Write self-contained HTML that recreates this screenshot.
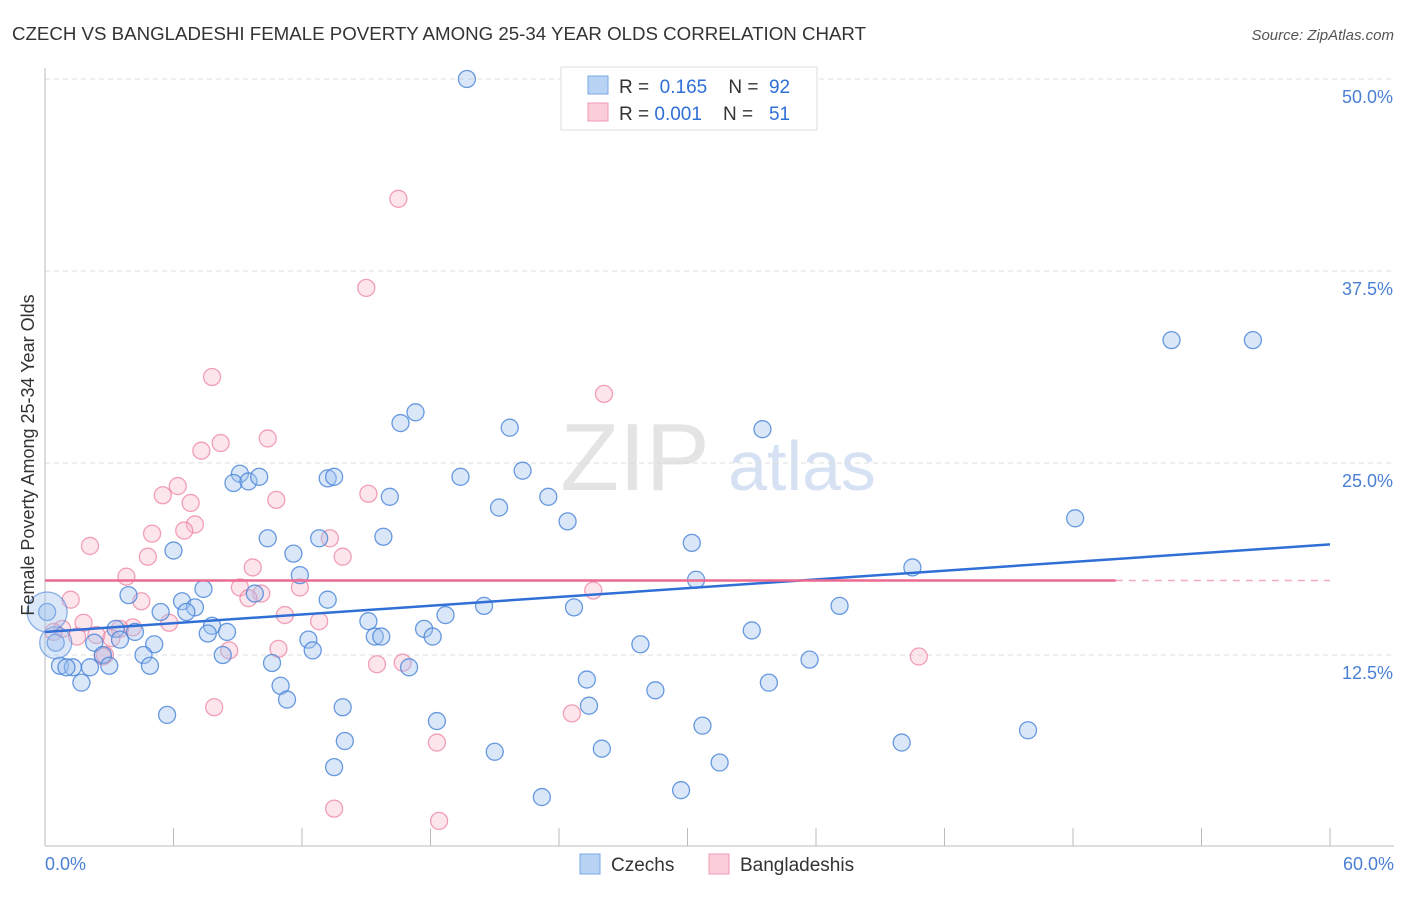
<!DOCTYPE html>
<html><head><meta charset="utf-8"><style>
body{margin:0;background:#fff;font-family:"Liberation Sans",sans-serif}
svg text{font-family:"Liberation Sans",sans-serif}
</style></head><body>
<svg id="chart" width="1406" height="892" xmlns="http://www.w3.org/2000/svg">
<text x="12" y="40" font-size="18" fill="#333" textLength="854" lengthAdjust="spacingAndGlyphs">CZECH VS BANGLADESHI FEMALE POVERTY AMONG 25-34 YEAR OLDS CORRELATION CHART</text>
<text x="1394" y="40" font-size="15" fill="#555" text-anchor="end" font-style="italic">Source: ZipAtlas.com</text>
<text x="635" y="490" font-size="96" fill="#e4e4e4" font-family="Liberation Serif" text-anchor="middle">ZIP</text>
<text x="802" y="490" font-size="70" fill="#d6e2f3" text-anchor="middle">atlas</text>
<g id="grid"></g>
<g id="axes"></g>
<g id="pts"></g>
<g id="lines"></g>
<text transform="translate(34,455) rotate(-90)" font-size="18" fill="#333" text-anchor="middle">Female Poverty Among 25-34 Year Olds</text>
<text x="45" y="870" font-size="18" fill="#4a7fd4">0.0%</text>
<text x="1394" y="870" font-size="18" fill="#4a7fd4" text-anchor="end">60.0%</text>
<g>
<rect x="561" y="67" width="256" height="63" fill="#fff" stroke="#ddd"/>
<rect x="588" y="76" width="20" height="18" fill="#b9d3f5" stroke="#7aa7e6"/>
<rect x="588" y="103" width="20" height="18" fill="#fbcdd9" stroke="#f09ab2"/>
<text x="619" y="93" font-size="19" fill="#333">R = <tspan fill="#2f6fd6">&#160;0.165</tspan>&#160;&#160;&#160;&#160;N = <tspan fill="#2f6fd6">&#160;92</tspan></text>
<text x="619" y="120" font-size="19" fill="#333">R = <tspan fill="#2f6fd6">0.001</tspan>&#160;&#160;&#160;&#160;N = <tspan fill="#2f6fd6">&#160;&#160;51</tspan></text>
</g>
<g>
<rect x="580" y="854" width="20" height="20" fill="#b9d3f5" stroke="#7aa7e6"/>
<text x="611" y="871" font-size="19" fill="#333">Czechs</text>
<rect x="709" y="854" width="20" height="20" fill="#fbcdd9" stroke="#f09ab2"/>
<text x="740" y="871" font-size="19" fill="#333">Bangladeshis</text>
</g>
</svg>
<script>
const yTicks=[12.5,25,37.5,50];
const yTickLabels=["12.5%","25.0%","37.5%","50.0%"];
const xTicks=[0,6,12,18,24,30,36,42,48,54,60];
const czechX=[19.7,52.6,56.4,17.3,16.6,21.7,33.5,9.1,8.8,9.5,10.0,13.2,13.5,19.4,22.3,16.1,23.5,21.2,24.4,48.1,6.0,10.4,12.8,15.8,11.6,30.2,40.5,11.9,30.4,3.9,7.4,9.8,13.2,6.4,5.4,7.0,6.6,37.1,24.7,20.5,18.7,15.1,7.8,3.3,4.2,7.6,8.5,17.7,33.0,3.5,2.3,5.1,12.3,15.4,15.7,18.1,27.8,12.5,2.7,4.6,8.3,35.7,0.7,1.3,3.0,2.1,4.9,10.6,17.0,25.3,1.7,11.0,33.8,28.5,11.3,13.9,25.4,5.7,18.3,30.7,45.9,14.0,40.0,26.0,21.0,31.5,13.5,29.7,23.2,0.5,0.1,1.0];
const czechY=[50.0,33.0,33.0,28.3,27.6,27.3,27.2,24.3,23.7,23.8,24.1,24.0,24.1,24.1,24.5,22.8,22.8,22.1,21.2,21.4,19.3,20.1,20.1,20.2,19.1,19.8,18.2,17.7,17.4,16.4,16.8,16.5,16.1,16.0,15.3,15.6,15.3,15.7,15.6,15.7,15.1,14.7,14.4,14.2,14.0,13.9,14.0,14.2,14.1,13.5,13.3,13.2,13.5,13.7,13.7,13.7,13.2,12.8,12.5,12.5,12.5,12.2,11.8,11.7,11.8,11.7,11.8,11.98,11.7,10.9,10.7,10.5,10.7,10.2,9.6,9.1,9.2,8.6,8.2,7.9,7.6,6.9,6.8,6.4,6.2,5.5,5.2,3.7,3.25,13.3,15.3,11.7];
const bangX=[16.5,15.0,7.8,26.1,10.4,8.2,7.3,6.2,5.5,6.8,10.8,15.1,7.0,6.5,5.0,2.1,13.3,4.8,13.9,9.7,3.8,9.1,11.9,10.1,25.6,4.5,9.5,1.2,11.2,5.8,12.8,1.8,0.8,4.1,3.5,0.4,2.4,1.5,3.1,10.9,8.6,2.8,2.7,40.8,15.5,16.7,7.9,24.6,18.3,13.5,18.4];
const bangY=[42.2,36.4,30.6,29.5,26.6,26.3,25.8,23.5,22.9,22.4,22.6,23.0,21.0,20.6,20.4,19.6,20.1,18.9,18.9,18.2,17.6,16.9,16.9,16.5,16.7,16.0,16.2,16.1,15.1,14.6,14.7,14.6,14.2,14.3,14.2,14.0,13.8,13.7,13.6,12.9,12.8,12.5,12.4,12.4,11.9,12.0,9.1,8.7,6.8,2.5,1.7];
const czechBig=[[0.5,13.3,16],[0.1,15.3,20]];
const NS="http://www.w3.org/2000/svg";
const X=v=>45+v*(1285/60), Y=v=>847-v*15.36;
function mk(t,a,p){const e=document.createElementNS(NS,t);for(const k in a)e.setAttribute(k,a[k]);document.getElementById(p).appendChild(e);return e;}
yTicks.forEach((t,i)=>{
 const g=mk('line',{x1:45,x2:1394,y1:Y(t),y2:Y(t),stroke:'#ddd','stroke-dasharray':'5,4'},'grid');
 
 
 const l=mk('text',{x:1393,y:Y(t)+24,'font-size':18,fill:'#4a7fd4','text-anchor':'end'},'grid');
 l.textContent=yTickLabels[i];
 
 
});
const ax=mk('line',{x1:45,x2:45,y1:68,y2:846,stroke:'#bbb'},'axes');


const bx=mk('line',{x1:45,x2:1394,y1:846,y2:846,stroke:'#bbb'},'axes');


xTicks.forEach(t=>{const k=mk('line',{x1:X(t),x2:X(t),y1:828,y2:846,stroke:'#bbb'},'axes');
 
 });
function dot(x,y,r,f,s,n){const c=mk('circle',{cx:X(x),cy:Y(y),r:r,fill:f,stroke:s,'stroke-width':1.3},'pts');
 
 }
bangX.forEach((x,i)=>dot(x,bangY[i],8.5,'rgba(248,180,200,0.35)','rgba(236,130,160,0.75)','bangladeshi-point'));
czechX.forEach((x,i)=>dot(x,czechY[i],8.5,'rgba(160,195,240,0.4)','rgba(70,130,215,0.8)','czech-point'));
czechBig.forEach(p=>dot(p[0],p[1],p[2],'rgba(160,195,240,0.4)','rgba(70,130,215,0.6)','czech-point-large'));
const bl=mk('line',{x1:X(0),y1:Y(14.0),x2:X(60),y2:Y(19.7),stroke:'#2f6fd6','stroke-width':2.5},'lines');


const pl=mk('line',{x1:X(0),y1:Y(17.35),x2:X(50),y2:Y(17.35),stroke:'#ec6a90','stroke-width':2.5},'lines');


const pd=mk('line',{x1:X(50),y1:Y(17.35),x2:X(60),y2:Y(17.35),stroke:'#f3a9bf','stroke-width':1.5,'stroke-dasharray':'7,6'},'lines');


</script>
</body></html>
